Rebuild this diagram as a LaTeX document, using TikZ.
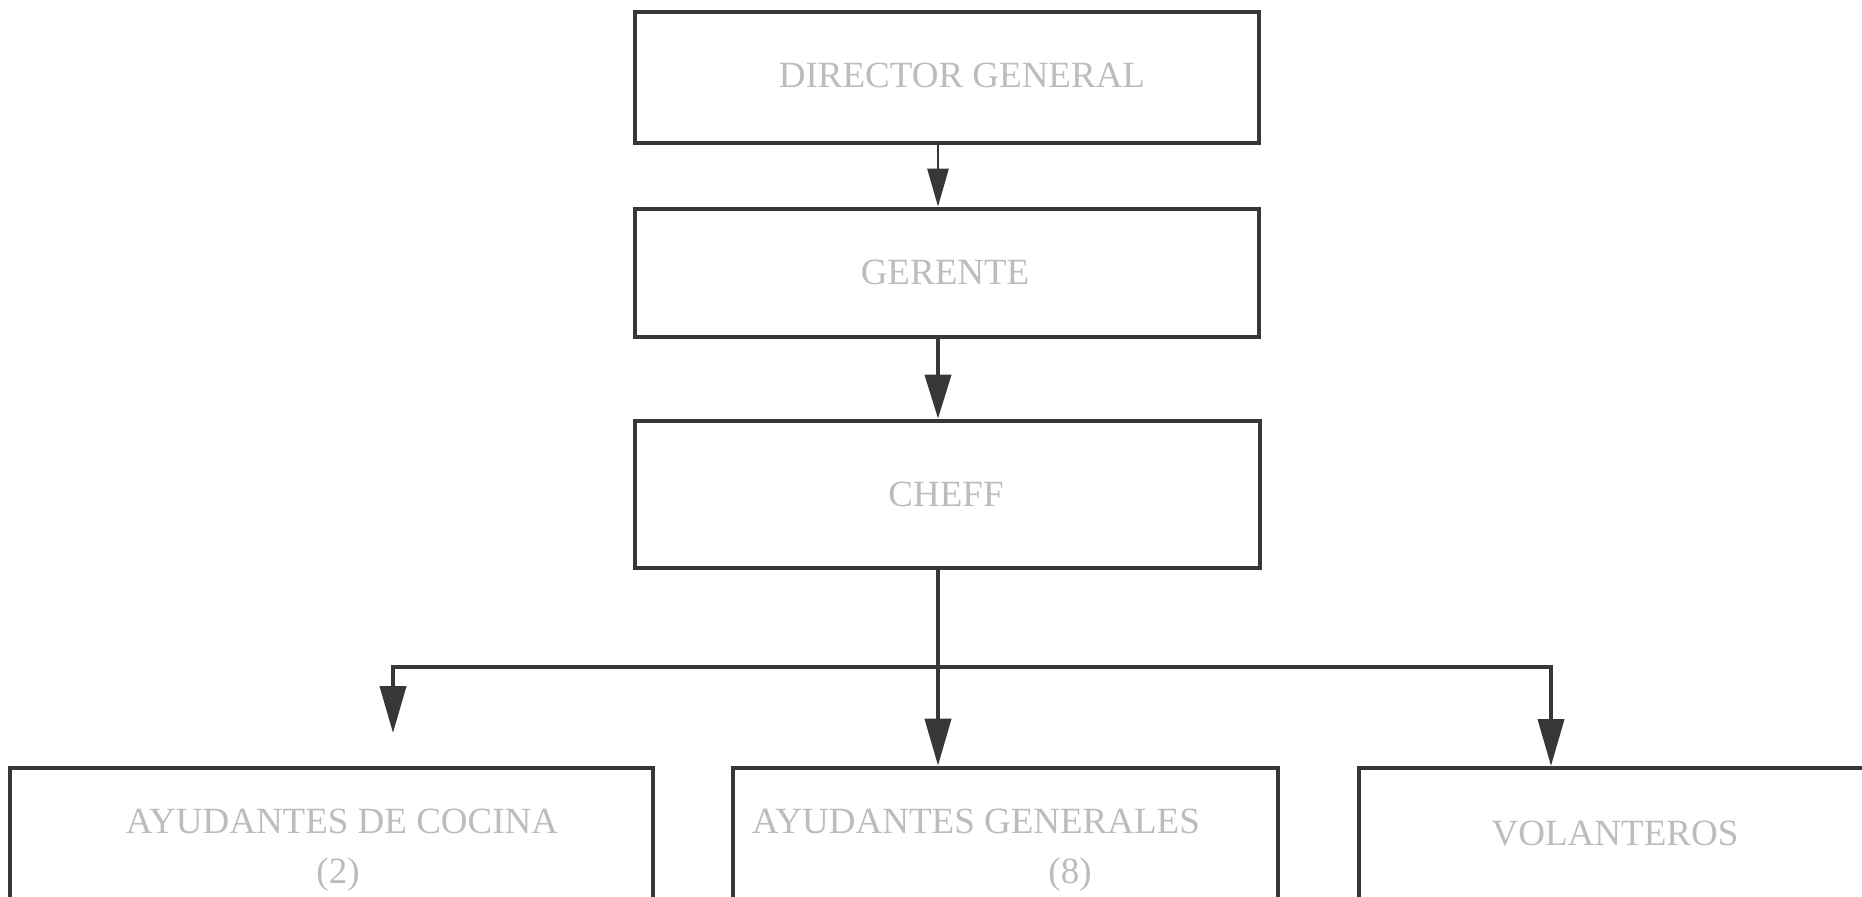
\documentclass[tikz,border=0pt]{standalone}
\usepackage{fontspec}
\setmainfont{Liberation Serif}
\usetikzlibrary{arrows.meta}
\definecolor{inkgray}{RGB}{55,55,55}
\definecolor{labelgray}{RGB}{188,188,188}
\tikzset{
  box/.style={draw=inkgray, line width=2.3pt, fill=white, inner sep=0pt},
  lbl/.style={text=labelgray, font=\fontsize{18.5}{22}\selectfont, inner sep=0pt, anchor=base},
  thinlink/.style={draw=inkgray, line width=1.3pt, -{Triangle[length=19pt,width=10.5pt]}},
  boldlink/.style={draw=inkgray, line width=2pt, -{Triangle[length=22pt,width=13pt]}},
  branch/.style={draw=inkgray, line width=2pt},
  branchtip/.style={branch, -{Triangle[length=23.5pt,width=13pt]}},
}
\begin{document}
\begin{tikzpicture}[x=0.5pt, y=-0.5pt]
  \useasboundingbox (0,0) rectangle (1862,897);
  \clip (0,0) rectangle (1862,897);
  \fill[white] (0,0) rectangle (1862,897);

  % upper chain of command
  \node[box, minimum width=312pt, minimum height=65.5pt] (dir) at (947,77.5) {};
  \node[box, minimum width=312pt, minimum height=64pt]   (ger) at (947,273) {};
  \node[box, minimum width=312.5pt, minimum height=73.5pt] (che) at (947.5,494.5) {};

  % staff boxes (run past the lower edge)
  \node[box, minimum width=321.5pt, minimum height=81pt] (coc) at (331.5,849) {};
  \node[box, minimum width=272.5pt, minimum height=81pt] (gen) at (1005.5,849) {};
  \node[box, minimum width=270.5pt, minimum height=81pt] (vol) at (1629.5,849) {};

  % labels
  \node[lbl] (tdir) at (962,88)  {DIRECTOR GENERAL};
  \node[lbl] (tger) at (945,285) {GERENTE};
  \node[lbl] (tche) at (946,507) {CHEFF};
  \node[lbl] (tcoc) at (342,833) {AYUDANTES DE COCINA};
  \node[lbl] (ncoc) at (338,883) {(2)};
  \node[lbl] (tgen) at (976,833) {AYUDANTES GENERALES};
  \node[lbl] (ngen) at (1070,883) {(8)};
  \node[lbl] (tvol) at (1615,845) {VOLANTEROS};

  % branching points
  \coordinate (hub) at (938,667);
  \coordinate (ltip) at (393,733);
  \coordinate (rtip) at (1551,766);

  % connectors
  \draw[thinlink] (dir.south -| hub) -- (ger.north -| hub);
  \draw[boldlink] (ger.south -| hub) -- (che.north -| hub);
  \draw[branch] (che.south -| hub) -- (hub);
  \draw[branchtip] (hub) -| (ltip);
  \draw[branchtip] (hub) -| (rtip);
  \draw[branchtip] (hub) -- (gen.north -| hub);
\end{tikzpicture}
\end{document}
